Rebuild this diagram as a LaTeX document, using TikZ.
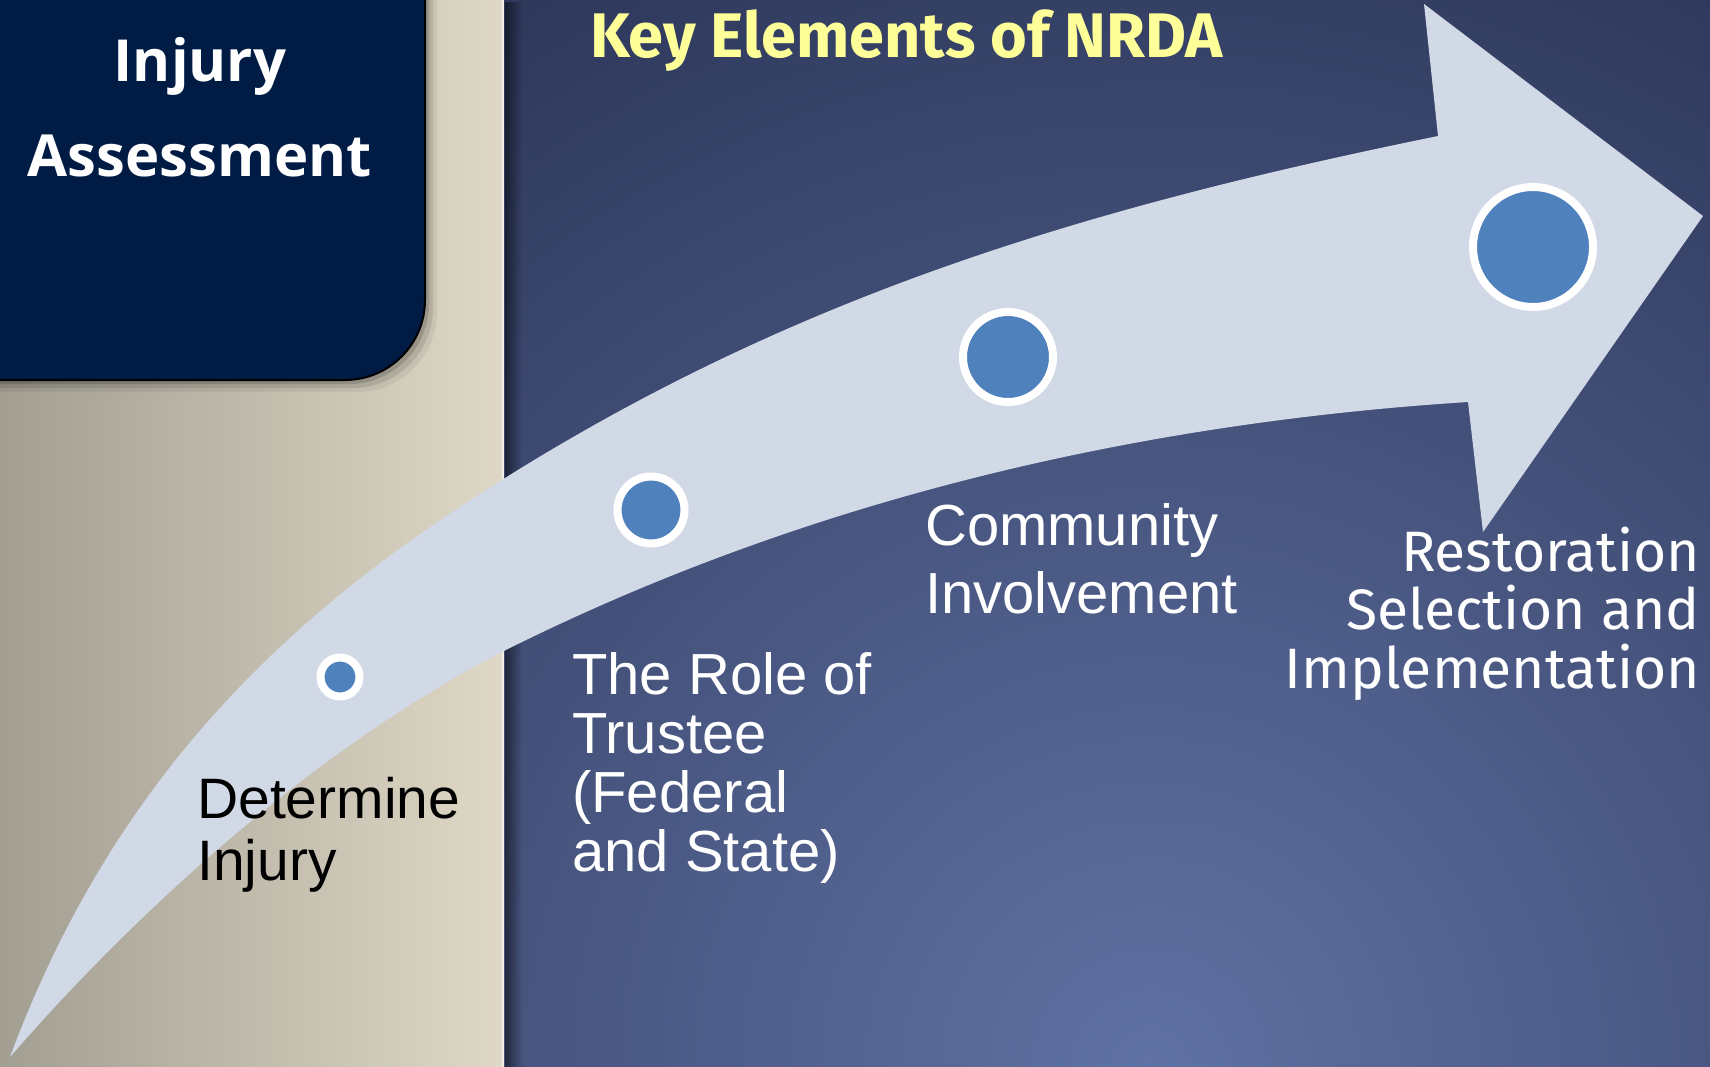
\documentclass[tikz,border=0pt]{standalone}
\usepackage{fontspec}
\setmainfont{Liberation Sans}
\newfontfamily\boxfont{Open Sans}
\newfontfamily\themefont{Fira Sans}
\usetikzlibrary{fadings}

\definecolor{tanleft}{HTML}{A29E92}
\definecolor{tanright}{HTML}{DFD8C6}
\definecolor{nightblue}{HTML}{1B2240}
\definecolor{duskblue}{HTML}{6072A3}
\definecolor{boxnavy}{HTML}{001B44}
\definecolor{arrowgrey}{HTML}{D1D9E7}
\definecolor{dotblue}{HTML}{4F81BD}
\definecolor{titleyellow}{HTML}{FFFF99}

\tikzset{
  stagedot/.style={circle, fill=dotblue, draw=white, line width=8pt, inner sep=0pt},
  steptext/.style={anchor=base west, align=left, inner sep=0pt},
}

\begin{document}
\begin{tikzpicture}[x=1pt, y=-1pt, line join=round, line cap=round]
	\useasboundingbox (0,0) rectangle (1710,1067);
	\clip (0,0) rectangle (1710,1067);
	% backgrounds
	\shade[left color=tanleft, right color=tanright] (0,0) rectangle (504,1067);
	\begin{scope}
		\clip (504,0) rectangle (1710,1067);
		\shade[inner color=duskblue, outer color=nightblue] (1150,1067) circle (1700pt);
	\end{scope}
	\draw[white!60!tanright, line width=2pt] (503,0)--(503,1067);
	\fill[black, opacity=0.5, path fading=east] (505,0) rectangle (522,1067);
	% title box
	\foreach \o/\a in {12/0.06,8/0.1,4/0.15}
		\fill[black, opacity=\a, rounded corners=80pt] (-100,-100) rectangle (425+\o,380+\o);
	\draw[black, line width=2pt, fill=boxnavy, rounded corners=80pt] (-100,-100) rectangle (425,380);
	\node[text=white, font=\boxfont\bfseries\fontsize{58}{95}\selectfont, align=center, anchor=base, inner sep=0pt] (injury) at (200,177) {Injury\\Assessment};
	% the arrow
	\fill[arrowgrey] (10,1057) .. controls (115,775) and (292,610) .. (505,478)
		.. controls (802,292) and (1095,206) .. (1438,136)
		-- (1424,4) -- (1703,216) -- (1483,532) -- (1468,402)
		.. controls (1139,423) and (816,498) .. (520,643)
		.. controls (340,731) and (154,891) .. (10,1057) -- cycle;
	\node[stagedot, minimum size=39pt] (d1) at (340,677) {};
	\node[stagedot, minimum size=67pt] (d2) at (651,510) {};
	\node[stagedot, minimum size=90pt] (d3) at (1008,357) {};
	\node[stagedot, minimum size=120pt] (d4) at (1533,247) {};
	% labels
	\node[text=titleyellow, font=\themefont\bfseries\fontsize{63}{63}\selectfont, anchor=base west, inner sep=0pt] (title) at (590,58) {Key Elements of NRDA};
	\node[steptext, font=\fontsize{57}{62}\selectfont] (determine) at (197,880) {Determine\\Injury};
	\node[steptext, font=\fontsize{58}{59}\selectfont, text=white] (trustee) at (572,871) {The Role of\\Trustee\\(Federal\\and State)};
	\node[steptext, font=\fontsize{58}{68}\selectfont, text=white] (community) at (925,613) {Community\\Involvement};
	\node[anchor=base east, align=right, inner sep=0pt, font=\themefont\fontsize{57}{58.5}\selectfont, text=white] (restoration) at (1700,688) {Restoration\\Selection and\\Implementation};
\end{tikzpicture}
\end{document}
